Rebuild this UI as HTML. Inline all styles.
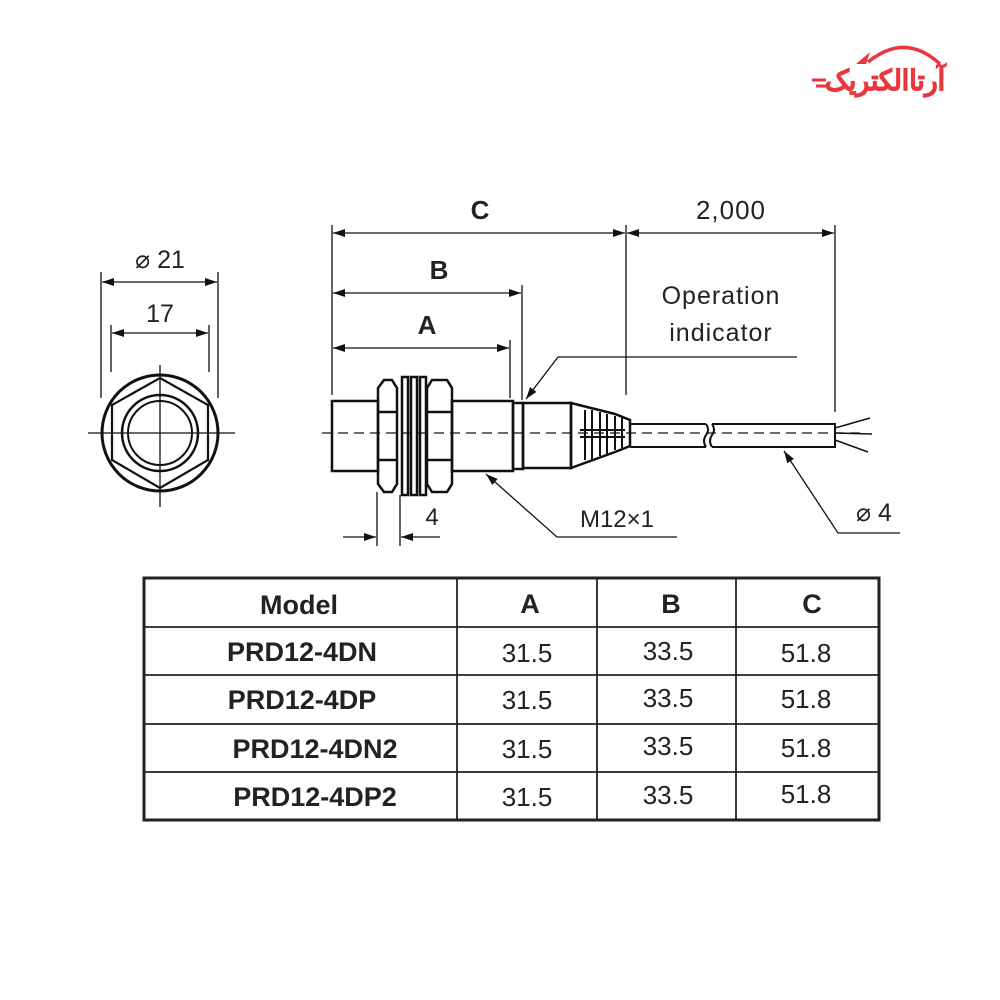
<!DOCTYPE html>
<html><head><meta charset="utf-8"><style>
html,body{margin:0;padding:0;background:#fff;width:1000px;height:1000px;overflow:hidden}
svg{display:block}
.t{font-family:"Liberation Sans",sans-serif;fill:#222}
</style></head><body>
<svg width="1000" height="1000" viewBox="0 0 1000 1000" xmlns="http://www.w3.org/2000/svg">
<defs>
<marker id="a" viewBox="0 0 12 8" refX="12" refY="4" markerWidth="12" markerHeight="8" markerUnits="userSpaceOnUse" orient="auto-start-reverse"><path d="M0,0L12,4L0,8z" fill="#111"/></marker>
</defs>
<!-- logo -->
<path d="M868,62 Q905,32 940,64" stroke="#e8383d" stroke-width="3.5" fill="none"/>
<path d="M856,64 l14,-12 l-4,12z" fill="#e8383d"/>
<text x="945" y="90" text-anchor="end" textLength="120" lengthAdjust="spacingAndGlyphs" font-family="'Liberation Sans','Noto Sans CJK SC',sans-serif" font-weight="900" font-size="28" fill="#e8383d" stroke="#e8383d" stroke-width="0.8">آرتاالکتریک</text>
<g stroke="#e8383d" stroke-width="3"><line x1="812" y1="80" x2="826" y2="80"/><line x1="816" y1="86" x2="826" y2="86"/></g>

<g stroke="#111" fill="none" stroke-width="1.3">
<!-- front view -->
<line x1="101" y1="272" x2="101" y2="398"/><line x1="218" y1="272" x2="218" y2="398"/>
<line x1="111" y1="325" x2="111" y2="372"/><line x1="209" y1="325" x2="209" y2="372"/>
<line x1="102" y1="282" x2="217" y2="282" marker-start="url(#a)" marker-end="url(#a)"/>
<line x1="112" y1="333" x2="208" y2="333" marker-start="url(#a)" marker-end="url(#a)"/>
<circle cx="160" cy="433" r="58" stroke-width="3"/>
<polygon points="160,378 208,405 208,460 160,488 112,460 112,405" stroke-width="2.2"/>
<circle cx="160" cy="433" r="38" stroke-width="2.5"/>
<circle cx="160" cy="433" r="32" stroke-width="2"/>
<line x1="88" y1="433" x2="235" y2="433"/><line x1="160" y1="365" x2="160" y2="507"/>

<!-- extension lines side -->
<line x1="332" y1="225" x2="332" y2="395"/>
<line x1="626" y1="225" x2="626" y2="395"/>
<line x1="835" y1="225" x2="835" y2="412"/>
<line x1="522" y1="285" x2="522" y2="400"/>
<line x1="510" y1="340" x2="510" y2="398"/>
<line x1="333" y1="233" x2="625" y2="233" marker-start="url(#a)" marker-end="url(#a)"/>
<line x1="627" y1="233" x2="834" y2="233" marker-start="url(#a)" marker-end="url(#a)"/>
<line x1="333" y1="293" x2="521" y2="293" marker-start="url(#a)" marker-end="url(#a)"/>
<line x1="333" y1="348" x2="509" y2="348" marker-start="url(#a)" marker-end="url(#a)"/>

<!-- body -->
<g stroke-width="2.5">
<rect x="332" y="401" width="46" height="70"/>
<polygon points="378,388 384,380 392,380 397,388 397,484 392,492 384,492 378,484"/>
<line x1="378" y1="412" x2="397" y2="412"/><line x1="378" y1="460" x2="397" y2="460"/>
<rect x="402" y="377" width="6" height="118"/>
<rect x="411" y="377" width="6" height="118"/>
<rect x="420" y="377" width="6" height="118"/>
<polygon points="427,388 432,380 447,380 452,388 452,484 447,492 432,492 427,484"/>
<line x1="427" y1="412" x2="452" y2="412"/><line x1="427" y1="460" x2="452" y2="460"/>
<rect x="452" y="401" width="61" height="70"/>
<rect x="513" y="403" width="10" height="66"/>
<rect x="523" y="403" width="48" height="65"/>
<polygon points="571,403 615,414 630,420 630,446 615,452 571,468"/>
</g>
<g stroke-width="2">
<line x1="585" y1="410" x2="585" y2="460"/><line x1="592" y1="410" x2="592" y2="460"/>
<line x1="600" y1="412" x2="600" y2="456"/><line x1="607" y1="414" x2="607" y2="454"/>
<line x1="615" y1="416" x2="615" y2="450"/><line x1="622" y1="418" x2="622" y2="448"/>
<line x1="580" y1="430" x2="625" y2="430"/><line x1="580" y1="437" x2="625" y2="437"/>
</g>
<!-- cable -->
<g stroke-width="2">
<path d="M630,424 L706,424 M630,447 L706,447 M706,424 q4,6 0,11 q-4,6 0,12"/>
<path d="M712,424 L835,424 L835,447 L712,447 M712,424 q4,6 0,11 q-4,6 0,12"/>
<path d="M835,428 L870,418 M835,433 L872,434 M835,440 L868,452" stroke-width="1.5"/>
</g>
<line x1="322" y1="433" x2="860" y2="433" stroke-dasharray="10,6"/>

<!-- leaders -->
<polyline points="797,357 558,357 526,399" marker-end="url(#a)"/>
<polyline points="677,537 557,537 486,474" marker-end="url(#a)"/>
<polyline points="900,533 838,533 784,451" marker-end="url(#a)"/>
<line x1="377" y1="492" x2="377" y2="546"/><line x1="400" y1="495" x2="400" y2="546"/>
<line x1="343" y1="537" x2="376" y2="537" marker-end="url(#a)"/>
<line x1="440" y1="537" x2="401" y2="537" marker-end="url(#a)"/>
</g>

<g class="t">
<text x="160" y="268" font-size="25" text-anchor="middle">⌀ 21</text>
<text x="160" y="322" font-size="25" text-anchor="middle">17</text>
<text x="480" y="219" font-size="26" font-weight="bold" text-anchor="middle">C</text>
<text x="731" y="219" font-size="26" text-anchor="middle" letter-spacing="1">2,000</text>
<text x="439" y="279" font-size="26" font-weight="bold" text-anchor="middle">B</text>
<text x="427" y="334" font-size="26" font-weight="bold" text-anchor="middle">A</text>
<text x="721" y="304" font-size="25" text-anchor="middle" letter-spacing="1">Operation</text>
<text x="721" y="341" font-size="25" text-anchor="middle" letter-spacing="1">indicator</text>
<text x="432" y="525" font-size="24" text-anchor="middle">4</text>
<text x="617" y="527" font-size="24" text-anchor="middle">M12×1</text>
<text x="874" y="521" font-size="25" text-anchor="middle">⌀ 4</text>
</g>

<!-- table -->
<g stroke="#222" fill="none">
<rect x="144" y="578" width="735" height="242" stroke-width="3"/>
<g stroke-width="1.8">
<line x1="144" y1="627" x2="879" y2="627"/><line x1="144" y1="675" x2="879" y2="675"/>
<line x1="144" y1="724" x2="879" y2="724"/><line x1="144" y1="772" x2="879" y2="772"/>
<line x1="457" y1="578" x2="457" y2="820"/><line x1="597" y1="578" x2="597" y2="820"/>
<line x1="736" y1="578" x2="736" y2="820"/>
</g>
</g>
<g class="t" font-size="27" text-anchor="middle">
<text x="299" y="614" font-weight="bold">Model</text>
<text x="530" y="613" font-weight="bold">A</text>
<text x="671" y="613" font-weight="bold">B</text>
<text x="812" y="613" font-weight="bold">C</text>
<text x="302" y="661" font-weight="bold">PRD12-4DN</text>
<text x="302" y="709" font-weight="bold">PRD12-4DP</text>
<text x="315" y="758" font-weight="bold">PRD12-4DN2</text>
<text x="315" y="806" font-weight="bold">PRD12-4DP2</text>
<g font-size="26">
<text x="527" y="662">31.5</text><text x="668" y="660">33.5</text><text x="806" y="662">51.8</text>
<text x="527" y="709">31.5</text><text x="668" y="707">33.5</text><text x="806" y="708">51.8</text>
<text x="527" y="758">31.5</text><text x="668" y="755">33.5</text><text x="806" y="757">51.8</text>
<text x="527" y="806">31.5</text><text x="668" y="804">33.5</text><text x="806" y="803">51.8</text>
</g>
</g>
</svg>
</body></html>
